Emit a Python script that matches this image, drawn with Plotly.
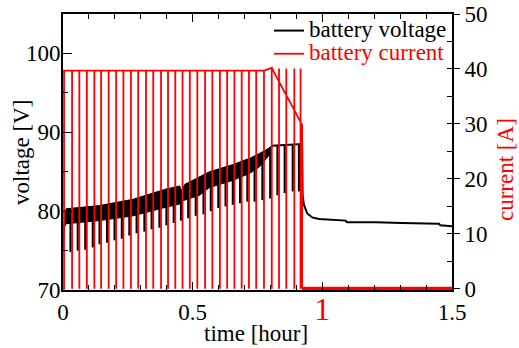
import plotly.graph_objects as go

# ---- charge pulses (hour) ----
pulse_t = [0.035, 0.063, 0.092, 0.121, 0.147, 0.176, 0.205, 0.233, 0.262, 0.290,
           0.320, 0.348, 0.378, 0.405, 0.433, 0.461, 0.489, 0.518, 0.548, 0.576,
           0.605, 0.633, 0.661, 0.689, 0.717, 0.745, 0.775, 0.805, 0.833, 0.861,
           0.892, 0.916]
# current level just before each interruption and the short overshoot [A]
pulse_base_a = [39.7] * 27 + [40.2, 37.7, 35.2, 32.5, 30.3]
pulse_top_a = [39.7] * 27 + [40.2, 40.1, 40.1, 40.1, 40.1]
# voltage just before each interruption and its relaxed minimum [V]
pulse_top_v = [78.5, 78.6, 78.7, 78.8, 78.8, 79.0, 79.1, 79.2, 79.4, 79.6,
               79.8, 80.1, 80.3, 80.6, 80.8, 81.3, 81.6, 81.9, 82.6, 83.1,
               83.4, 83.7, 84.0, 84.4, 84.8, 85.3, 86.3, 88.1, 88.3, 88.35,
               88.4, 88.5]
pulse_min_v = [74.8, 75.0, 75.1, 75.4, 75.8, 76.0, 76.3, 76.5, 76.9, 77.2,
               77.4, 77.7, 77.9, 78.2, 78.5, 78.8, 79.1, 79.4, 79.6, 80.0,
               80.4, 80.6, 80.8, 81.0, 81.2, 81.2, 81.4, 81.6, 82.0, 82.3,
               82.5, 82.5]

# ---- voltage ripple band during constant-current charge ----
band_t = [0.000, 0.006, 0.012, 0.140, 0.270, 0.397, 0.450, 0.456, 0.470,
          0.526, 0.565, 0.655, 0.720, 0.757, 0.795, 0.805]
band_lo = [75.0, 78.0, 78.4, 78.8, 79.4, 80.5, 80.9, 81.3, 81.4,
           82.0, 83.0, 83.9, 84.8, 85.6, 87.1, 88.1]
band_hi = [75.0, 79.6, 80.3, 80.7, 81.5, 82.8, 83.2, 82.6, 83.4,
           84.3, 85.0, 85.9, 86.7, 87.3, 88.0, 88.3]

# ---- constant-voltage plateau and rest ----
rest_t = [0.805, 0.922, 0.922, 0.924, 0.929, 0.942, 0.961, 0.987, 1.025, 1.076,
          1.090, 1.095, 1.207, 1.306, 1.436, 1.450, 1.455, 1.500]
rest_v = [88.3, 88.5, 88.5, 82.0, 80.8, 79.7, 79.2, 79.0, 78.9, 78.8,
          78.8, 78.6, 78.6, 78.5, 78.4, 78.4, 78.2, 78.1]

# current when charging stops, then zero until the end
cur_end_t = [0.922, 0.922]
cur_end_a = [29.8, 0.0]
tail_t = [0.922, 1.5]
tail_a = [0.0, 0.0]

relax_lead = 0.006  # voltage dip sits just ahead of the current gap
RED = "#ff0000"
FONT = "Liberation Serif, Times New Roman, serif"
FS = 23

# voltage spike segments
sx, sy = [], []
for t, top, mn in zip(pulse_t, pulse_top_v, pulse_min_v):
    sx += [t - relax_lead, t - relax_lead, None]
    sy += [top, mn, None]

# current trace with interruptions
cx = [0.0, 0.004, 0.004]
cy = [0.0, 0.0, 39.7]
for t, base, top in zip(pulse_t, pulse_base_a, pulse_top_a):
    cx += [t, t, t, t]
    cy += [base, top, 0.0, base]
cx += cur_end_t
cy += cur_end_a


def big(txt, color="black"):
    return f"<span style='font-size:{FS}px;color:{color}'>{txt}</span>"


fig = go.Figure()
fig.add_trace(go.Scatter(
    x=band_t + band_t[::-1], y=band_hi + band_lo[::-1],
    fill="toself", fillcolor="black", mode="lines",
    line=dict(color="black", width=1), showlegend=False, hoverinfo="skip"))
fig.add_trace(go.Scatter(
    x=sx, y=sy, mode="lines", line=dict(color="black", width=2.2),
    showlegend=False, hoverinfo="skip"))
fig.add_trace(go.Scatter(
    x=rest_t, y=rest_v, mode="lines", line=dict(color="black", width=2),
    name=big("battery voltage")))
fig.add_trace(go.Scatter(
    x=cx, y=cy, mode="lines", line=dict(color=RED, width=1.8),
    name=big("battery current", RED), yaxis="y2"))
fig.add_trace(go.Scatter(
    x=tail_t, y=tail_a, mode="lines", line=dict(color=RED, width=4),
    showlegend=False, yaxis="y2", hoverinfo="skip"))
# carries the inner tick marks on the right-hand axis
fig.add_trace(go.Scatter(x=[None], y=[None], yaxis="y3", showlegend=False))

tick_font = dict(family=FONT, size=FS, color="black")
fig.update_layout(
    width=519, height=348,
    margin=dict(l=63, r=67, t=14, b=58, autoexpand=False),
    paper_bgcolor="white", plot_bgcolor="white",
    font=dict(family=FONT, size=FS, color="black"),
    showlegend=True,
    legend=dict(x=1.0, y=1.0, xanchor="right", yanchor="top",
                bgcolor="rgba(0,0,0,0)", font=dict(family=FONT, size=15.5),
                tracegroupgap=0, itemwidth=30),
    xaxis=dict(range=[0, 1.5], tickvals=[0, 0.5, 1, 1.5],
               ticktext=["0", "0.5", "<span style='color:#ff0000;font-size:32px'>1</span>", "1.5"],
               ticks="inside", ticklen=8, tickwidth=1.2, tickcolor="black",
               minor=dict(dtick=0.1, ticks="inside", ticklen=5, tickcolor="black", tickwidth=1),
               showline=True, linecolor="black", linewidth=2, mirror="ticks",
               showgrid=False, zeroline=False, tickfont=tick_font, automargin=False),
    yaxis=dict(range=[70, 105], tickvals=[70, 80, 90, 100],
               ticks="inside", ticklen=9, tickwidth=1.2, tickcolor="black",
               minor=dict(dtick=5, ticks="inside", ticklen=5, tickcolor="black", tickwidth=1),
               showline=True, linecolor="black", linewidth=2, ticklabelstandoff=-4,
               showgrid=False, zeroline=False, tickfont=tick_font, automargin=False),
    yaxis2=dict(range=[-0.25, 50], overlaying="y", side="right",
                tickvals=[0, 10, 20, 30, 40, 50],
                ticks="outside", ticklen=6, tickwidth=1.2, tickcolor="black",
                showline=True, linecolor="black", linewidth=2,
                showgrid=False, zeroline=False, tickfont=tick_font, automargin=False),
    yaxis3=dict(range=[-0.25, 50], overlaying="y", side="right",
                tickvals=[5, 10, 15, 20, 25, 30, 35, 40, 45],
                ticks="inside", ticklen=5, tickwidth=1, tickcolor="black",
                showticklabels=False, showline=False,
                showgrid=False, zeroline=False, automargin=False),
    annotations=[
        dict(text="voltage [V]", xref="paper", yref="paper", x=-0.108, y=0.5,
             xanchor="center", yanchor="middle",
             textangle=-90, showarrow=False, font=dict(family=FONT, size=FS, color="black")),
        dict(text="current [A]", xref="paper", yref="paper", x=1.139, y=0.435,
             xanchor="center", yanchor="middle",
             textangle=-90, showarrow=False, font=dict(family=FONT, size=FS, color=RED)),
        dict(text="time [hour]", xref="paper", yref="paper", x=0.496, y=-0.159,
             xanchor="center", yanchor="middle",
             showarrow=False, font=dict(family=FONT, size=FS, color="black")),
    ],
)

fig.write_html("out.html")
